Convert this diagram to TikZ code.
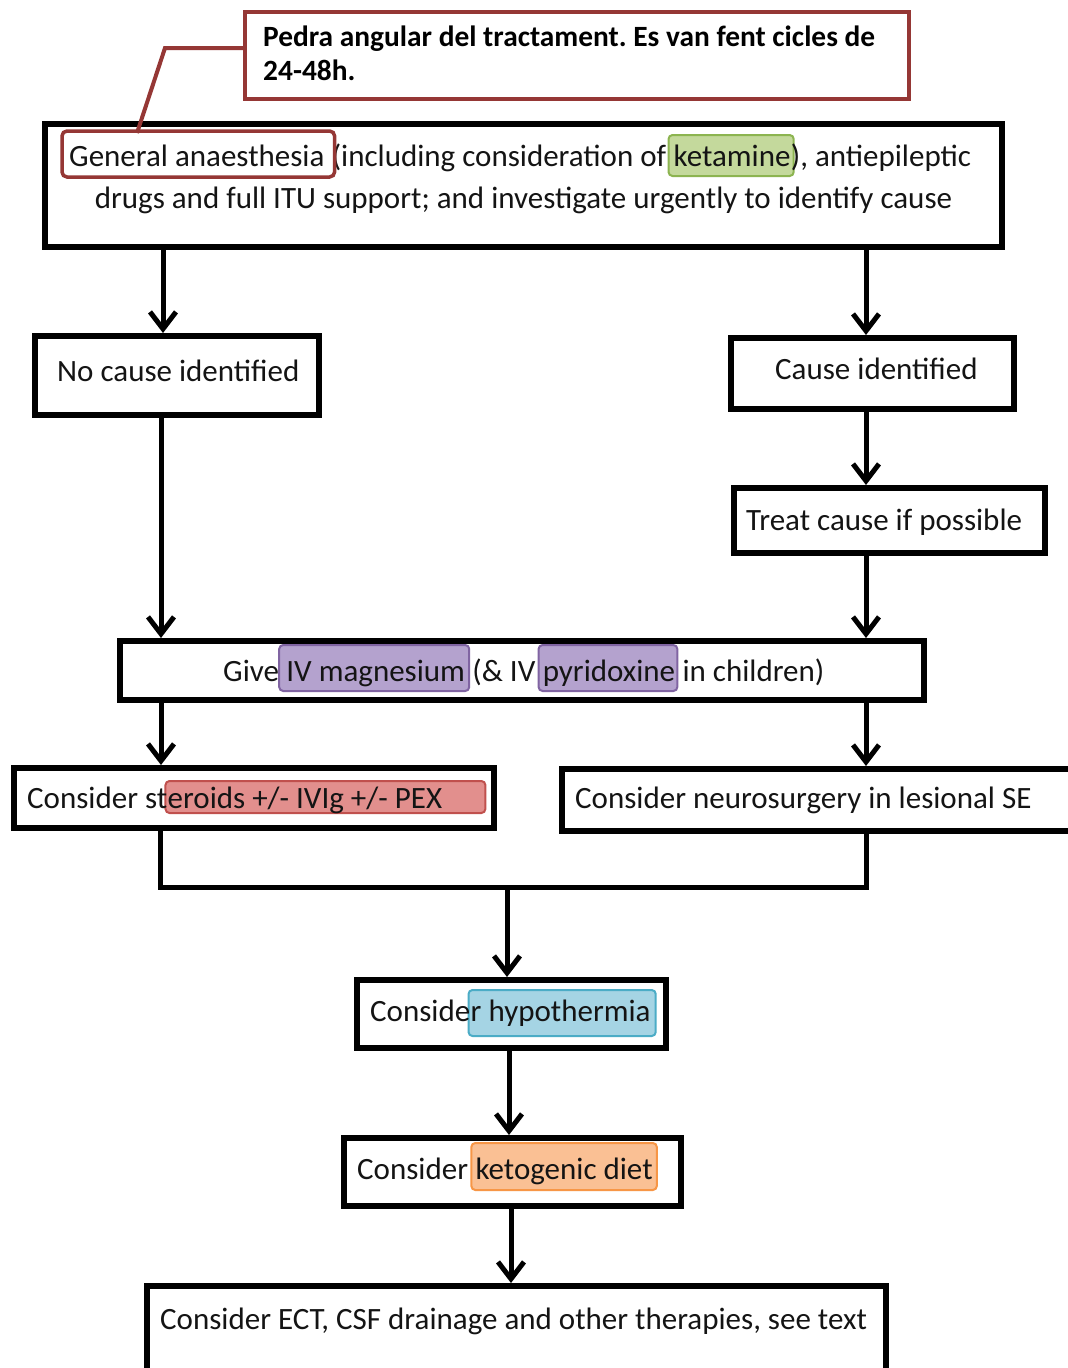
\documentclass[tikz,border=0pt]{standalone}
\usepackage{fontspec}
\setmainfont{Carlito}
\usetikzlibrary{arrows.meta,calc,backgrounds}
\pgfdeclarelayer{marks}
\pgfsetlayers{background,marks,main}
\frenchspacing

\definecolor{calloutred}{RGB}{149,55,53}
\definecolor{greenline}{RGB}{140,180,80}
\definecolor{greenfill}{RGB}{196,217,156}
\definecolor{purpleline}{RGB}{128,100,162}
\definecolor{purplefill}{RGB}{180,162,206}
\definecolor{redline}{RGB}{192,80,77}
\definecolor{redfill}{RGB}{226,143,141}
\definecolor{blueline}{RGB}{75,172,198}
\definecolor{bluefill}{RGB}{165,212,228}
\definecolor{orangeline}{RGB}{247,150,70}
\definecolor{orangefill}{RGB}{250,192,148}

\begin{document}
\begin{tikzpicture}[x=1pt,y=-1pt,
  box/.style={draw=black, line width=6pt, inner sep=0pt},
  calloutbox/.style={draw=calloutred, line width=4.5pt, inner sep=0pt},
  txt/.style={inner sep=0pt, anchor=base west, text=black!92,
              font=\fontsize{31}{37}\selectfont},
  calltxt/.style={inner sep=0pt, anchor=base west, text=black,
              font=\fontsize{29.4}{34}\selectfont\bfseries},
  flow/.style={line width=5pt, -{Straight Barb[length=17pt,width=26pt]}},
  conn/.style={line width=5pt, line join=miter},
  calline/.style={draw=calloutred, line width=4pt, line join=miter},
  hl/.style={line width=2pt, rounded corners=4pt},
  gaframe/.style={draw=calloutred, line width=3.5pt, rounded corners=5pt}]

% canvas and page
\begin{pgfonlayer}{background}
\fill[white] (0,0) rectangle (1068,1368);
\end{pgfonlayer}
\useasboundingbox (0,0) rectangle (1068,1368);
\clip (0,0) rectangle (1068,1368);

% ---------- boxes ----------
\node[calloutbox, minimum width=664pt, minimum height=87pt] (callout) at (577,55.5) {};
\node[box, minimum width=957pt, minimum height=123pt] (top) at (523.5,185.5) {};
\node[box, minimum width=284pt, minimum height=79pt] (nocause) at (177,375.5) {};
\node[box, minimum width=283pt, minimum height=71pt] (cause) at (872.5,373.5) {};
\node[box, minimum width=311pt, minimum height=65pt] (treat) at (889.5,520.5) {};
\node[box, minimum width=804pt, minimum height=59pt] (give) at (522,670.5) {};
\node[box, minimum width=480pt, minimum height=60pt] (steroid) at (254,798) {};
\node[box, minimum width=528pt, minimum height=62pt] (neuro) at (826,800) {};
\node[box, minimum width=309pt, minimum height=68pt] (hypo) at (511.5,1014) {};
\node[box, minimum width=337pt, minimum height=68pt] (keto) at (512.5,1172) {};
\node[box, minimum width=739pt, minimum height=114pt] (ect) at (516.5,1343) {};

% ---------- texts ----------
\node[calltxt] (call1) at (263,46) {Pedra angular del tractament. Es van fent cicles de};
\node[calltxt] (call2) at (263,80) {24-48h.};

\node[txt] (t1a) at (69,166) {General anaesthesia\ \mbox{}};
\node[txt] (t1b) at (t1a.base east) {(including consideration of\ \mbox{}};
\node[txt] (t1c) at (t1b.base east) {ketamine};
\node[txt] (t1d) at (t1c.base east) {), antiepileptic};
\node[txt, anchor=base] (t2) at (523.5,208) {drugs and full ITU support; and investigate urgently to identify cause};

\node[txt] (tnc) at (57,381) {No cause identified};
\node[txt] (tc) at (775,379) {Cause identified};
\node[txt] (tt) at (746,530) {Treat cause if possible};

\node[txt] (g1) at (223,681) {Give};
\node[txt] (g2) at (g1.base east) {\ IV magnesium\ \mbox{}};
\node[txt] (g3) at (g2.base east) {(\& IV\ \mbox{}};
\node[txt] (g4) at (g3.base east) {pyridoxine};
\node[txt] (g5) at (g4.base east) {\ in children)};

\node[txt] (s1) at (27,808) {Consider st};
\node[txt] (s2) at (s1.base east) {eroids +/- IVIg +/- PEX};
\node[txt] (tn) at (575,808) {Consider neurosurgery in lesional SE};

\node[txt] (h1) at (370,1021) {Conside};
\node[txt] (h2) at (h1.base east) {r hypothermia};

\node[txt] (k1) at (357,1179) {Consider\ \mbox{}};
\node[txt] (k2) at (k1.base east) {ketogenic diet};

\node[txt] (te) at (160,1329) {Consider ECT, CSF drainage and other therapies, see text};

% ---------- highlights, behind the words ----------
\begin{pgfonlayer}{marks}
\path[hl, draw=greenline, fill=greenfill] let \p1=(t1c.west), \p2=(t1c.east) in
  (\x1-5pt,-135pt) rectangle (\x2+3pt,-176pt);
\path[hl, draw=purpleline, fill=purplefill] let \p1=(g2.west), \p2=(g2.east) in
  (\x1,-645pt) rectangle (\x2-3pt,-691pt);
\path[hl, draw=purpleline, fill=purplefill] let \p1=(g4.west), \p2=(g4.east) in
  (\x1-4pt,-645pt) rectangle (\x2+2pt,-691pt);
\path[hl, draw=redline, fill=redfill] let \p1=(s2.west), \p2=(s2.east) in
  (\x1-2pt,-781pt) rectangle (\x2+43pt,-813pt);
\path[hl, draw=blueline, fill=bluefill] let \p1=(h2.west), \p2=(h2.east) in
  (\x1-2pt,-990pt) rectangle (\x2+5pt,-1036pt);
\path[hl, draw=orangeline, fill=orangefill] let \p1=(k2.west), \p2=(k2.east) in
  (\x1-4pt,-1143pt) rectangle (\x2+4pt,-1190pt);
\end{pgfonlayer}

\path[gaframe] let \p1=(t1a.west), \p2=(t1a.east) in
  (\x1-7pt,-131pt) rectangle (\x2+3pt,-177pt);
\coordinate (gapin) at (137,133);

% ---------- callout pointer ----------
\draw[calline] (callout.west |- 0,48) -- (165,48) -- (gapin);

% ---------- connectors ----------
\draw[flow] (top.south -| 163,0) -- (nocause.north -| 163,0);
\draw[flow] (top.south -| 866,0) -- (cause.north -| 866,0);
\draw[flow] (nocause.south -| 161,0) -- (give.north -| 161,0);
\draw[flow] (cause.south -| 866,0) -- (treat.north -| 866,0);
\draw[flow] (treat.south -| 866,0) -- (give.north -| 866,0);
\draw[flow] (give.south -| 161,0) -- (steroid.north -| 161,0);
\draw[flow] (give.south -| 866,0) -- (neuro.north -| 866,0);

\coordinate (merge) at (507,887);
\draw[conn] (steroid.south -| 160,0) |- (merge) -| (neuro.south -| 866,0);
\draw[flow] (merge) -- (hypo.north -| merge);
\draw[flow] (hypo.south -| 509,0) -- (keto.north -| 509,0);
\draw[flow] (keto.south -| 511,0) -- (ect.north -| 511,0);

\end{tikzpicture}
\end{document}
